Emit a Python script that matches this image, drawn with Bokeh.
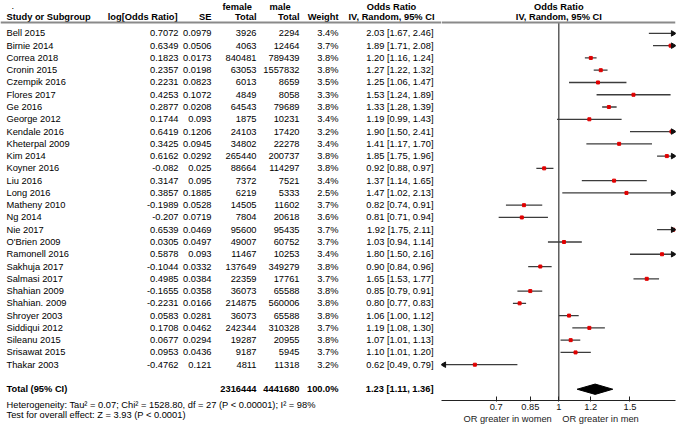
import math
from bokeh.plotting import figure
from bokeh.layouts import row
from bokeh.models import Range1d, Span, FixedTicker, CustomJSTickFormatter, LogAxis, Title
from bokeh.core.properties import value
from bokeh.embed import file_html
from bokeh.resources import INLINE

# ---------------- data ----------------
studies = ["Bell 2015", "Birnie 2014", "Correa 2018", "Cronin 2015", "Czempik 2016",
           "Flores 2017", "Ge 2016", "George 2012", "Kendale 2016", "Kheterpal 2009",
           "Kim 2014", "Koyner 2016", "Liu 2016", "Long 2016", "Matheny 2010",
           "Ng 2014", "Nie 2017", "O'Brien 2009", "Ramonell 2016", "Sakhuja 2017",
           "Salmasi 2017", "Shahian  2009", "Shahian. 2009", "Shroyer 2003",
           "Siddiqui 2012", "Sileanu 2015", "Srisawat 2015", "Thakar 2003"]
log_or = [0.7072, 0.6349, 0.1823, 0.2357, 0.2231, 0.4253, 0.2877, 0.1744, 0.6419, 0.3425,
          0.6162, -0.082, 0.3147, 0.3857, -0.1989, -0.207, 0.6539, 0.0305, 0.5878, -0.1044,
          0.4985, -0.1655, -0.2231, 0.0583, 0.1708, 0.0677, 0.0953, -0.4762]
se = [0.0979, 0.0506, 0.0173, 0.0198, 0.0823, 0.1072, 0.0208, 0.093, 0.1206, 0.0945,
      0.0292, 0.025, 0.095, 0.1885, 0.0528, 0.0719, 0.0469, 0.0497, 0.093, 0.0332,
      0.0384, 0.0358, 0.0166, 0.0281, 0.0462, 0.0294, 0.0436, 0.121]
female_total = [3926, 4063, 840481, 63053, 6013, 4849, 64543, 1875, 24103, 34802,
                265440, 88664, 7372, 6219, 14505, 7804, 95600, 49007, 11467, 137649,
                22359, 36073, 214875, 36073, 242344, 19287, 9187, 4811]
male_total = [2294, 12464, 789439, 1557832, 8659, 8058, 79689, 10231, 17420, 22278,
              200737, 114297, 7521, 5333, 11602, 20618, 95435, 60752, 10253, 349279,
              17761, 65588, 560006, 65588, 310328, 20955, 5945, 11318]
weight = [3.4, 3.7, 3.8, 3.8, 3.5, 3.3, 3.8, 3.4, 3.2, 3.4,
          3.8, 3.8, 3.4, 2.5, 3.7, 3.6, 3.7, 3.7, 3.4, 3.8,
          3.7, 3.8, 3.8, 3.8, 3.7, 3.8, 3.7, 3.2]
or_est = [2.03, 1.89, 1.20, 1.27, 1.25, 1.53, 1.33, 1.19, 1.90, 1.41,
          1.85, 0.92, 1.37, 1.47, 0.82, 0.81, 1.92, 1.03, 1.80, 0.90,
          1.65, 0.85, 0.80, 1.06, 1.19, 1.07, 1.10, 0.62]
or_lo = [1.67, 1.71, 1.16, 1.22, 1.06, 1.24, 1.28, 0.99, 1.50, 1.17,
         1.75, 0.88, 1.14, 1.02, 0.74, 0.71, 1.75, 0.94, 1.50, 0.84,
         1.53, 0.79, 0.77, 1.00, 1.08, 1.01, 1.01, 0.49]
or_hi = [2.46, 2.08, 1.24, 1.32, 1.47, 1.89, 1.39, 1.43, 2.41, 1.70,
         1.96, 0.97, 1.65, 2.13, 0.91, 0.94, 2.11, 1.14, 2.16, 0.96,
         1.77, 0.91, 0.83, 1.12, 1.30, 1.13, 1.20, 0.79]

total_female = 2316444
total_male = 4441680
total_weight = 100.0
total_or, total_lo, total_hi = 1.23, 1.11, 1.36
tau2, chi2, het_df, het_p, i2 = 0.07, 1528.80, 27, "P < 0.00001", 98
z_value, z_p = 3.93, "P < 0.0001"

axis_ticks = [0.7, 0.85, 1, 1.2, 1.5]
side_labels = ["OR greater in women", "OR greater in men"]

# ---------------- layout helpers ----------------
FONT = "Liberation Sans"
FS = "9.3px"
H = 426
BB = 26                     # bottom border (axes / footnotes)
ROW0, ROWH = 32.9, 12.27    # pixel y of first study row and row pitch
FRAME_H = H - BB


def r_at(px):
    return (px - ROW0) / ROWH


yr = Range1d(r_at(FRAME_H), r_at(0))


def txt(fig, xs, ys, texts, align="left", bold=False, color="#000000", size=FS):
    fig.text(x=xs, y=ys, text=texts, text_align=align, text_baseline="middle",
             text_font=value(FONT), text_font_size=size,
             text_font_style="bold" if bold else "normal", text_color=color)


n = len(studies)
rows = list(range(n))
total_row = n + 1
top_line = r_at(6.5)
head_line = r_at(16)
rule_row = r_at(22)

# ---------------- left (table) ----------------
left = figure(width=441, height=H, x_range=Range1d(0, 441), y_range=yr,
              toolbar_location=None, output_backend="svg",
              x_axis_location=None, y_axis_location=None,
              min_border_left=0, min_border_right=0, min_border_top=0,
              min_border_bottom=BB, outline_line_color=None)
left.xgrid.visible = False
left.ygrid.visible = False

# header
txt(left, [11], [top_line - 0.1], ["."])
txt(left, [222], [top_line], ["female"], bold=True)
txt(left, [269], [top_line], ["male"], bold=True)
txt(left, [391], [top_line], ["Odds Ratio"], align="center", bold=True)
txt(left, [6], [head_line], ["Study or Subgroup"], bold=True)
txt(left, [177], [head_line], ["log[Odds Ratio]"], align="right", bold=True)
txt(left, [211], [head_line], ["SE"], align="right", bold=True)
txt(left, [256], [head_line], ["Total"], align="right", bold=True)
txt(left, [299], [head_line], ["Total"], align="right", bold=True)
txt(left, [338], [head_line], ["Weight"], align="right", bold=True)
txt(left, [391], [head_line], ["IV, Random, 95% CI"], align="center", bold=True)

# study rows
txt(left, [6] * n, rows, studies)
txt(left, [178] * n, rows, [str(v) for v in log_or], align="right")
txt(left, [211] * n, rows, [str(v) for v in se], align="right")
txt(left, [256] * n, rows, [str(v) for v in female_total], align="right")
txt(left, [299] * n, rows, [str(v) for v in male_total], align="right")
txt(left, [338] * n, rows, [f"{w:.1f}%" for w in weight], align="right")
txt(left, [433] * n, rows,
    [f"{o:.2f} [{lo:.2f}, {hi:.2f}]" for o, lo, hi in zip(or_est, or_lo, or_hi)],
    align="right")

# totals
txt(left, [6], [total_row], ["Total (95% CI)"], bold=True)
txt(left, [256], [total_row], [str(total_female)], align="right", bold=True)
txt(left, [299], [total_row], [str(total_male)], align="right", bold=True)
txt(left, [338], [total_row], [f"{total_weight:.1f}%"], align="right", bold=True)
txt(left, [433], [total_row], [f"{total_or:.2f} [{total_lo:.2f}, {total_hi:.2f}]"],
    align="right", bold=True)

het_text = (f"Heterogeneity: Tau\u00b2 = {tau2:.2f}; Chi\u00b2 = {chi2:.2f}, df = {het_df} "
            f"({het_p}); I\u00b2 = {i2}%")
test_text = f"Test for overall effect: Z = {z_value:.2f} ({z_p})"
for t, so in ((het_text, -5), (test_text, 0)):
    left.add_layout(Title(text=t, align="left", offset=6, standoff=so,
                          text_font=FONT, text_font_size=FS, text_font_style="normal",
                          text_color="#000000"), "below")

left.add_layout(Span(location=rule_row, dimension="width", line_color="#8a8a8a",
                     line_width=2))

# ---------------- right (forest) ----------------
x_start, x_end = 0.5127, 1.9437
RW = 234
ppl = RW / math.log(x_end / x_start)   # pixels per ln unit

right = figure(width=RW + 10, height=H, x_axis_type="log",
               x_range=Range1d(x_start, x_end), y_range=yr,
               y_axis_location=None, toolbar_location=None, output_backend="svg",
               min_border_left=0, min_border_right=10, min_border_top=0,
               min_border_bottom=BB, outline_line_color=None)
right.xgrid.visible = False
right.ygrid.visible = False

ax = right.xaxis[0]
ax.ticker = FixedTicker(ticks=axis_ticks)
ax.formatter = CustomJSTickFormatter(code="return String(tick)")
ax.axis_line_color = "#222222"
ax.axis_line_width = 1
ax.major_tick_line_color = "#222222"
ax.major_tick_in = 4
ax.major_tick_out = 1
ax.minor_tick_line_color = None
ax.major_label_standoff = 2
ax.axis_label_standoff = 0
ax.major_label_text_font = FONT
ax.major_label_text_font_size = FS
ax.major_label_text_color = "#111111"

ax2 = LogAxis(ticker=FixedTicker(ticks=[0.747, 1.268]),
              formatter=CustomJSTickFormatter(
                  code=f"return tick < 1 ? '{side_labels[0]}' : '{side_labels[1]}'"),
              axis_line_color=None, major_tick_line_color=None,
              minor_tick_line_color=None, major_tick_in=0, major_tick_out=0,
              major_label_standoff=1, axis_label_standoff=0,
              major_label_text_font=FONT,
              major_label_text_font_size=FS, major_label_text_color="#222222")
right.add_layout(ax2, "below")

# header over forest
txt(right, [1], [top_line], ["Odds Ratio"], align="center", bold=True)
txt(right, [1], [head_line], ["IV, Random, 95% CI"], align="center", bold=True)
right.add_layout(Span(location=rule_row, dimension="width", line_color="#8a8a8a",
                      line_width=2))

# line of no effect
right.segment(x0=[1], y0=[rule_row], x1=[1], y1=[r_at(FRAME_H)],
              line_color="#444444", line_width=1.3)

# CIs
right.segment(x0=or_lo, y0=rows, x1=or_hi, y1=rows, line_color="#3c3c3c",
              line_width=1.3)
right.scatter(x=or_est, y=rows, marker="square", size=3, color="#e00000")

# arrows for CIs beyond the axis
head_px = 2.5
r_arrow = [i for i in rows if or_hi[i] > x_end]
l_arrow = [i for i in rows if or_lo[i] < x_start]
right.scatter(x=[x_end * math.exp(-head_px / ppl)] * len(r_arrow), y=r_arrow,
              marker="triangle", size=5.5, angle=-math.pi / 2, color="#111111")
right.scatter(x=[x_start * math.exp(head_px / ppl)] * len(l_arrow), y=l_arrow,
              marker="triangle", size=5.5, angle=math.pi / 2, color="#111111")

# pooled diamond
dh = 0.42
right.patch(x=[total_lo, total_or, total_hi, total_or],
            y=[total_row, total_row - dh, total_row, total_row + dh],
            color="black")

layout = row(left, right)
open("out.html", "w").write(file_html(layout, INLINE))
